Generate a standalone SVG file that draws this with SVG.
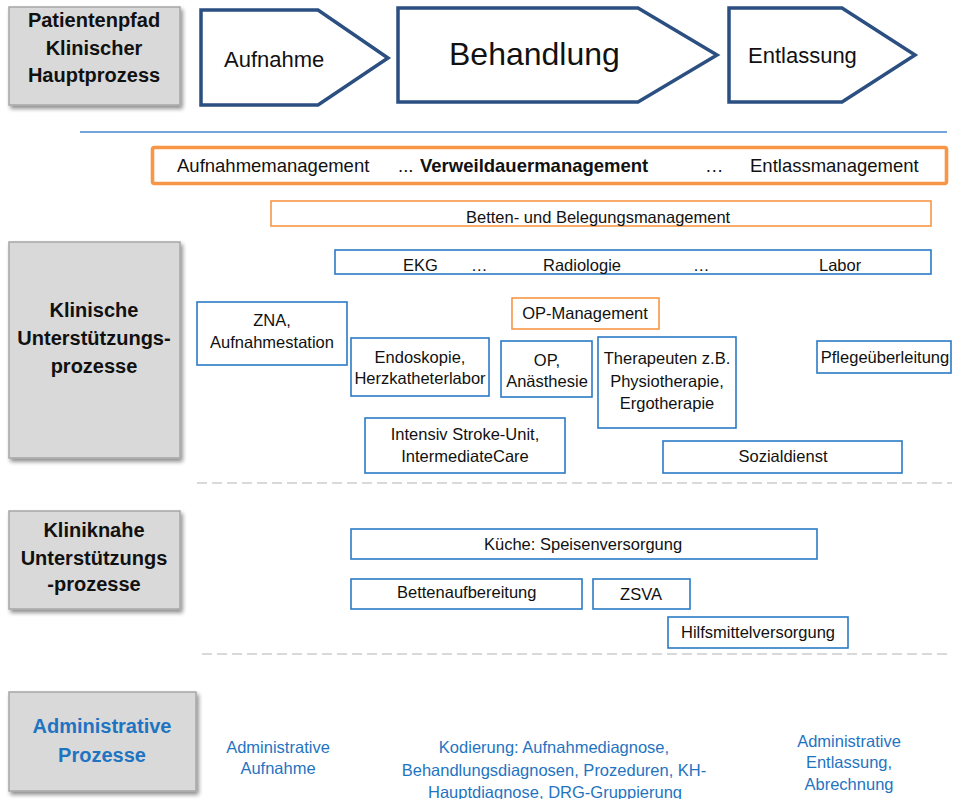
<svg xmlns="http://www.w3.org/2000/svg" width="953" height="799" viewBox="0 0 953 799">
<defs>
<filter id="sh" x="-10%" y="-10%" width="125%" height="125%">
<feGaussianBlur in="SourceAlpha" stdDeviation="2"/>
<feOffset dx="2" dy="3" result="o"/>
<feComponentTransfer><feFuncA type="linear" slope="0.45"/></feComponentTransfer>
<feMerge><feMergeNode/><feMergeNode in="SourceGraphic"/></feMerge>
</filter>
</defs>
<style>
text{font-family:"Liberation Sans",Arial,sans-serif;fill:#111}
.lab{font-size:20px;font-weight:bold;text-anchor:middle}
.gray{fill:#d9d9d9;stroke:#a6a6a6;stroke-width:1.5;filter:url(#sh)}
.chev{fill:#fff;stroke:#2b4f81;stroke-width:3.5;stroke-linejoin:miter}
.bb{fill:#fff;stroke:#2a7ac6;stroke-width:1.6}
.ob{fill:#fff;stroke:#f79646;stroke-width:1.6}
.t{font-size:16.5px}
.c{text-anchor:middle}
.adm{font-size:16.5px;fill:#1f74c2;text-anchor:middle}
.dash{stroke:#d9d9d9;stroke-width:2;stroke-dasharray:10 5;fill:none}
</style>
<rect width="953" height="799" fill="#fff"/>

<g id="hauptprozess">
<rect class="gray" x="9" y="7" width="171" height="98"/>
<text class="lab" x="94" y="27">Patientenpfad</text>
<text class="lab" x="94" y="55">Klinischer</text>
<text class="lab" x="94" y="82">Hauptprozess</text>
</g>
<g id="klinische">
<rect class="gray" x="9" y="242" width="171" height="216"/>
<text class="lab" x="94" y="317">Klinische</text>
<text class="lab" x="94" y="345">Unterstützungs-</text>
<text class="lab" x="94" y="373">prozesse</text>
</g>
<g id="kliniknahe">
<rect class="gray" x="9" y="511" width="171" height="98"/>
<text class="lab" x="94" y="537">Kliniknahe</text>
<text class="lab" x="94" y="565">Unterstützungs</text>
<text class="lab" x="94" y="591">-prozesse</text>
</g>
<g id="administrative">
<rect class="gray" x="9" y="692" width="187" height="99"/>
<text class="lab" x="102" y="733" style="fill:#1f74c2">Administrative</text>
<text class="lab" x="102" y="762" style="fill:#1f74c2">Prozesse</text>
</g>

<g id="aufnahme">
<polygon class="chev" points="201,10 318,10 388,58 318,105 201,105"/>
<text x="224" y="67" style="font-size:22px">Aufnahme</text>
</g>
<g id="behandlung">
<polygon class="chev" points="398,8 638,8 717,55 638,102 398,102"/>
<text x="449" y="65" style="font-size:32px">Behandlung</text>
</g>
<g id="entlassung">
<polygon class="chev" points="729,8 842,8 915,55 842,102 729,102"/>
<text x="748" y="63" style="font-size:22px">Entlassung</text>
</g>

<g id="connectors">
<line x1="80" y1="132" x2="947" y2="132" stroke="#4a86d0" stroke-width="1.3"/>
<line class="dash" x1="197" y1="483" x2="952" y2="483"/>
<line class="dash" x1="202" y1="654" x2="952" y2="654"/>
</g>

<g id="management">
<rect x="152.5" y="147.5" width="794" height="36" rx="2" fill="#fff" stroke="#f79646" stroke-width="3.6"/>
<text x="177" y="172" style="font-size:18.5px">Aufnahmemanagement</text>
<text x="398" y="172" style="font-size:18.5px">...</text>
<text x="420" y="172" style="font-size:18.5px;font-weight:bold">Verweildauermanagement</text>
<text x="705" y="172" style="font-size:18.5px">…</text>
<text x="750" y="172" style="font-size:18.5px">Entlassmanagement</text>
</g>
<g id="betten">
<rect class="ob" x="271" y="201" width="660" height="25"/>
<text class="t" x="466" y="223">Betten- und Belegungsmanagement</text>
</g>
<g id="diagnostik">
<rect class="bb" x="335" y="250" width="596" height="24"/>
<text class="t" x="403" y="271">EKG</text>
<text class="t" x="471" y="271">…</text>
<text class="t" x="543" y="271">Radiologie</text>
<text class="t" x="693" y="271">…</text>
<text class="t" x="819" y="271">Labor</text>
</g>

<g id="zna">
<rect class="bb" x="197" y="302" width="150" height="63"/>
<text class="t c" x="272" y="326">ZNA,</text>
<text class="t c" x="272" y="348">Aufnahmestation</text>
</g>
<g id="opmanagement">
<rect class="ob" x="512" y="298" width="147" height="31"/>
<text class="t c" x="585" y="319">OP-Management</text>
</g>
<g id="endoskopie">
<rect class="bb" x="351" y="338" width="138" height="58"/>
<text class="t c" x="420" y="363">Endoskopie,</text>
<text class="t c" x="420" y="384">Herzkatheterlabor</text>
</g>
<g id="op">
<rect class="bb" x="501" y="341" width="91" height="56"/>
<text class="t c" x="547" y="366">OP,</text>
<text class="t c" x="547" y="387">Anästhesie</text>
</g>
<g id="therapeuten">
<rect class="bb" x="598" y="337" width="138" height="91"/>
<text class="t c" x="667" y="364">Therapeuten z.B.</text>
<text class="t c" x="667" y="387">Physiotherapie,</text>
<text class="t c" x="667" y="409">Ergotherapie</text>
</g>
<g id="pflege">
<rect class="bb" x="817" y="341" width="134" height="32"/>
<text class="t c" x="885" y="363">Pflegeüberleitung</text>
</g>
<g id="intensiv">
<rect class="bb" x="365" y="418" width="200" height="55"/>
<text class="t c" x="465" y="440">Intensiv Stroke-Unit,</text>
<text class="t c" x="465" y="462">IntermediateCare</text>
</g>
<g id="sozialdienst">
<rect class="bb" x="663" y="441" width="239" height="32"/>
<text class="t c" x="783" y="462">Sozialdienst</text>
</g>

<g id="kueche">
<rect class="bb" x="351" y="529" width="466" height="30"/>
<text class="t" x="484" y="550">Küche: Speisenversorgung</text>
</g>
<g id="bettenaufbereitung">
<rect class="bb" x="351" y="579" width="231" height="30"/>
<text class="t" x="397" y="598">Bettenaufbereitung</text>
</g>
<g id="zsva">
<rect class="bb" x="593" y="579" width="97" height="30"/>
<text class="t c" x="641" y="600">ZSVA</text>
</g>
<g id="hilfsmittel">
<rect class="bb" x="668" y="617" width="180" height="31"/>
<text class="t c" x="758" y="638">Hilfsmittelversorgung</text>
</g>

<g id="admin-aufnahme">
<text class="adm" x="278" y="753">Administrative</text>
<text class="adm" x="278" y="774">Aufnahme</text>
</g>
<g id="kodierung">
<text class="adm" x="554" y="753">Kodierung: Aufnahmediagnose,</text>
<text class="adm" x="554" y="776">Behandlungsdiagnosen, Prozeduren, KH-</text>
<text class="adm" x="555" y="798">Hauptdiagnose, DRG-Gruppierung</text>
</g>
<g id="admin-entlassung">
<text class="adm" x="849" y="747">Administrative</text>
<text class="adm" x="849" y="768">Entlassung,</text>
<text class="adm" x="849" y="790">Abrechnung</text>
</g>
</svg>
